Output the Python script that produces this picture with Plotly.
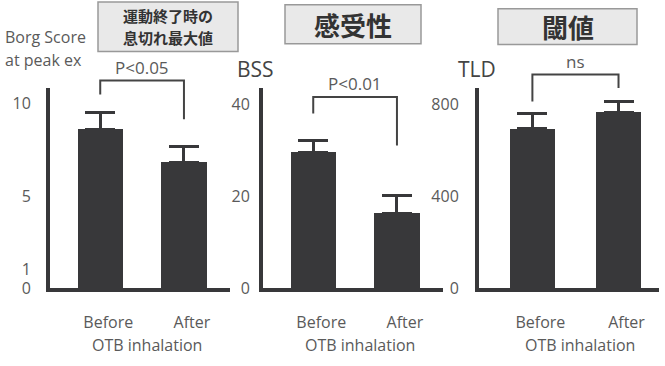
import plotly.graph_objects as go

W, H = 665, 366

# ---------------- data ----------------
conditions = ["Before", "After"]
borg_mean = [8.6, 6.8]
borg_err = [0.9, 0.9]
bss_mean = [29.6, 16.3]
bss_err = [2.6, 3.8]
tld_mean = [695, 767]
tld_err = [67, 46]
borg_ticks = [0, 1, 5, 10]
bss_ticks = [0, 20, 40]
tld_ticks = [0, 400, 800]
sig_labels = ["P<0.05", "P<0.01", "ns"]
# bracket levels (data units): top, left leg end, right leg end
borg_bracket = [11.26, 10.5, 9.16]
bss_bracket = [41.7, 38.1, 31.1]
tld_bracket = [932, 814, 873]
box_titles = [["運動終了時の", "息切れ最大値"], ["感受性"], ["閾値"]]

DARK = "#38383a"
TXT = "#5a5a5a"
FONT = "Open Sans, DejaVu Sans, sans-serif"
JP = "Noto Sans CJK JP"


def px(x):
    return x / W


def py(y):
    return 1 - y / H


panels = [
    dict(mean=borg_mean, err=borg_err, ticks=borg_ticks, yr=[0, 10.84], xd=(50, 230), xr=[-0.6, 1.55],
         bw=0.54, br=borg_bracket, standoff=12),
    dict(mean=bss_mean, err=bss_err, ticks=bss_ticks, yr=[0, 43.6], xd=(263, 443), xr=[-0.6, 1.55],
         bw=0.54, br=bss_bracket, standoff=6),
    dict(mean=tld_mean, err=tld_err, ticks=tld_ticks, yr=[0, 872], xd=(479, 659), xr=[-0.62, 1.47],
         bw=0.52, br=tld_bracket, standoff=13),
]
YTOP, YBOT = 91, 297

fig = go.Figure()
shapes = []
annotations = []


def ann(x, y, text, size, color=TXT, family=FONT, xanchor="center", yanchor="middle", **kw):
    return dict(x=x, y=y, xref="paper", yref="paper", text=text, showarrow=False,
                xanchor=xanchor, yanchor=yanchor,
                font=dict(family=family, size=size, color=color), **kw)


for i, p in enumerate(panels):
    n = "" if i == 0 else str(i + 1)
    fig.add_trace(go.Bar(
        x=[0, 1], y=p["mean"], width=p["bw"], marker=dict(color=DARK, line=dict(width=0)),
        error_y=dict(type="data", array=p["err"], arrayminus=[0, 0], symmetric=False,
                     thickness=3, width=15, color=DARK),
        xaxis="x" + n, yaxis="y" + n, showlegend=False,
    ))
    xa = dict(domain=[px(p["xd"][0]), px(p["xd"][1])], range=p["xr"], anchor="y" + n,
              showline=True, linewidth=4, linecolor=DARK, showgrid=False, zeroline=False,
              tickvals=[0, 1], ticktext=conditions, ticks="", ticklabelstandoff=17,
              ticklabelshift=8, tickfont=dict(family=FONT, size=16, color=TXT), fixedrange=True)
    ya = dict(domain=[py(YBOT), py(YTOP)], range=p["yr"], anchor="x" + n,
              showline=True, linewidth=4, linecolor=DARK, showgrid=False, zeroline=False,
              tickvals=p["ticks"], ticks="", ticklabelstandoff=p["standoff"],
              tickfont=dict(family=FONT, size=16, color=TXT), fixedrange=True)
    fig.update_layout(**{"xaxis" + n: xa, "yaxis" + n: ya})

    # helper conversions data -> paper
    def dx(v, p=p):
        x0, x1 = p["xd"]
        r0, r1 = p["xr"]
        return px(x0 + (v - r0) / (r1 - r0) * (x1 - x0))

    def dy(v, p=p):
        return py(YBOT - v / p["yr"][1] * (YBOT - YTOP))

    top, lft, rgt = p["br"]
    line = dict(color="#444444", width=2)
    shapes.append(dict(type="path", xref="paper", yref="paper",
                       path=f"M {dx(0)},{dy(lft)} L {dx(0)},{dy(top)} L {dx(1)},{dy(top)} L {dx(1)},{dy(rgt)}",
                       line=line))
    annotations.append(ann((dx(0) + dx(1)) / 2, dy(top), sig_labels[i], 17,
                           yanchor="bottom", yshift=0))
    annotations.append(ann((dx(0) + dx(1)) / 2 + px(5), py(356), "OTB inhalation", 16))

# y-axis titles
annotations += [
    ann(px(3), py(38), "Borg Score", 16, xanchor="left"),
    ann(px(3), py(62), "at peak ex", 16, xanchor="left"),
    ann(px(235), py(71), "BSS", 21, color="#444444", xanchor="left"),
    ann(px(456), py(71), "TLD", 21, color="#444444", xanchor="left"),
]

# title boxes
boxes = [(98, 2, 238, 53, 15), (285, 5, 421, 45, 26), (498, 9, 637, 46, 26)]
for (x0, y0, x1, y1, fs), lines in zip(boxes, box_titles):
    shapes.append(dict(type="rect", xref="paper", yref="paper", x0=px(x0), x1=px(x1),
                       y0=py(y1), y1=py(y0), fillcolor="#e9e9e9",
                       line=dict(color="#999999", width=1.5)))
    k = len(lines)
    step = (y1 - y0) / (k + 0.0) if k > 1 else 0
    for j, t in enumerate(lines):
        yc = (y0 + y1) / 2 + (j - (k - 1) / 2) * 23
        annotations.append(ann(px((x0 + x1) / 2), py(yc), "<b>" + t + "</b>", fs,
                               color="#333333", family=JP))

fig.update_layout(
    width=W, height=H, margin=dict(l=0, r=0, t=0, b=0),
    paper_bgcolor="white", plot_bgcolor="white",
    shapes=shapes, annotations=annotations, bargap=0,
)

fig.write_html("out.html", config={"displayModeBar": False})
